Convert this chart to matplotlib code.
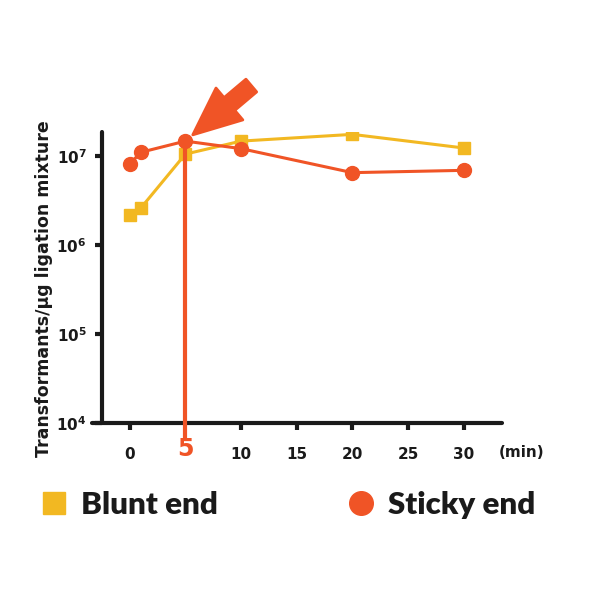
import numpy as np
import matplotlib.pyplot as plt
from matplotlib.lines import Line2D

minutes = [0, 1, 5, 10, 20, 30]
blunt = [2.2e6, 2.6e6, 1.05e7, 1.47e7, 1.75e7, 1.23e7]
sticky = [8.1e6, 1.1e7, 1.47e7, 1.21e7, 6.5e6, 6.9e6]
xticks = [0, 10, 15, 20, 25, 30]
yticks = [1e4, 1e5, 1e6, 1e7]

yellow = "#F2B822"
red = "#F05426"
ink = "#1a1a1a"

fig = plt.figure(figsize=(6, 6), dpi=100)
ax = fig.add_axes([0.153, 0.295, 0.683, 0.4855])

ax.plot(minutes, blunt, "s-", color=yellow, lw=2.2, ms=9, zorder=3)
ax.plot(minutes, sticky, "o-", color=red, lw=2.2, ms=10, zorder=4)
ax.vlines(5, 10**3.82, sticky[2], color=red, lw=3, zorder=5, clip_on=False)

# pointer arrow at the 5 min peak
ax.annotate("", xy=(5, sticky[2]), xytext=(47.5, 40), textcoords="offset points",
            arrowprops=dict(arrowstyle="simple,head_length=2.3,head_width=2.0,tail_width=0.8",
                            mutation_scale=15, color=red, lw=2, joinstyle="round",
                            capstyle="round", shrinkA=0, shrinkB=7), zorder=6)

ax.set_yscale("log")
ax.set_ylim(1e4, 10**7.273)
ax.set_xlim(-3.4, 33.4)
ax.set_yticks(yticks)
ax.minorticks_off()
ax.set_xticks(xticks)

for s in ["top", "right"]:
    ax.spines[s].set_visible(False)
for s in ["left", "bottom"]:
    ax.spines[s].set_linewidth(3)
    ax.spines[s].set_color(ink)
    ax.spines[s].set_capstyle("round")
ax.spines["left"].set_position(("data", -2.5))

ax.tick_params(axis="both", direction="out", length=5, width=3, color=ink,
               labelsize=11, labelcolor=ink, pad=6)
ax.tick_params(axis="x", pad=12)
for lab in ax.get_xticklabels() + ax.get_yticklabels():
    lab.set_fontweight("bold")

ax.text(5, -0.09, "5", transform=ax.get_xaxis_transform(), color=red,
        fontsize=17, fontweight="bold", ha="center", va="center")
ax.text(35.2, -0.1, "(min)", transform=ax.get_xaxis_transform(), color=ink,
        fontsize=11, fontweight="bold", ha="center", va="center")

ax.set_ylabel("Transformants/μg ligation mixture", fontsize=12.5, fontweight="bold",
              color=ink)
ax.yaxis.set_label_coords(-0.095, 0.46)

handles = [Line2D([], [], marker="s", ls="none", color=yellow, ms=16),
           Line2D([], [], marker="o", ls="none", color=red, ms=17)]
fig.legend(handles, ["Blunt end", "Sticky end"], loc="center left",
           bbox_to_anchor=(0.017, 0.158), ncol=2, frameon=False,
           prop=dict(family="Lato", weight="heavy", size=22.5),
           handlelength=1.0, handletextpad=0.35, columnspacing=4.1, labelcolor=ink)

fig.savefig("out.png", dpi=100)
